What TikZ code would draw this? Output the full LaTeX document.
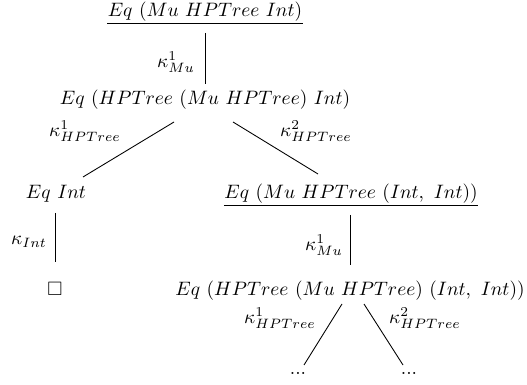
\documentclass[tikz,border=0pt]{standalone}
\usepackage{amssymb}
\usetikzlibrary{calc}
\begin{document}
\begin{tikzpicture}[x=0.515pt,y=-0.515pt,
  term/.style={inner sep=0pt,anchor=base},
  lbl/.style={inner sep=0pt},
  edge/.style={line width=0.45pt}]
\useasboundingbox (0,0) rectangle (527,385);

% goals of the derivation
\node[term] (n1) at (205,17)  {$Eq\ (Mu\ HPTree\ Int)$};
\node[term] (n2) at (205,105) {$Eq\ (HPTree\ (Mu\ HPTree)\ Int)$};
\node[term] (n3) at (56,199)  {$Eq\ Int$};
\node[term] (n4) at (351,199) {$Eq\ (Mu\ HPTree\ (Int,\ Int))$};
\node[term] (sq) at (55,296)  {$\square$};
\node[term] (n5) at (350,296) {$Eq\ (HPTree\ (Mu\ HPTree)\ (Int,\ Int))$};
\node[term] (d1) at (298,375) {$...$};
\node[term] (d2) at (409,375) {$...$};

% rules under the recursive goals
\draw[edge] ($(n1.base west)+(0,6)$) -- ($(n1.base east)+(0,6)$);
\draw[edge] ($(n4.base west)+(0,6)$) -- ($(n4.base east)+(0,6)$);

% edges of the tree
\draw[edge] ($(n1.base)+(0,16)$) -- ($(n2.base)+(0,-21)$);
\draw[edge] ($(n2.base)+(-31,17)$) -- ($(n3.base)+(27,-22)$);
\draw[edge] ($(n2.base)+(28,17)$) -- ($(n4.base)+(-33,-25)$);
\draw[edge] ($(n3.base)+(-1,14)$) -- ($(sq.base)+(0,-34)$);
\draw[edge] ($(n4.base)+(-1,16)$) -- ($(n5.base)+(0,-31)$);
\draw[edge] ($(n5.base)+(-8,8)$) -- ($(d1.base)+(6,-10)$);
\draw[edge] ($(n5.base)+(14,8)$) -- ($(d2.base)+(-6,-10)$);

% edge labels
\node[lbl] (k1) at (176,62)  {$\kappa^1_{Mu}$};
\node[lbl] (k2) at (85,131)  {$\kappa^1_{HPTree}$};
\node[lbl] (k3) at (316,131) {$\kappa^2_{HPTree}$};
\node[lbl] (k4) at (29,242)  {$\kappa_{Int}$};
\node[lbl] (k5) at (324,245) {$\kappa^1_{Mu}$};
\node[lbl] (k6) at (280,318) {$\kappa^1_{HPTree}$};
\node[lbl] (k7) at (425,318) {$\kappa^2_{HPTree}$};
\end{tikzpicture}
\end{document}
